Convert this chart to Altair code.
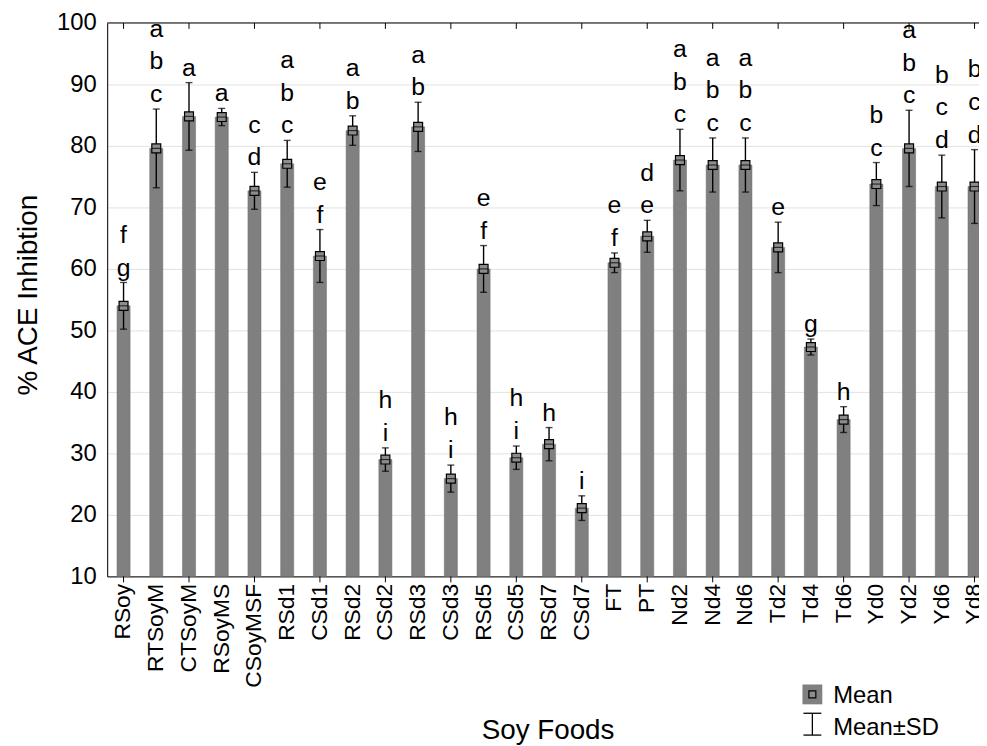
import altair as alt
import pandas as pd

foods = ["RSoy", "RTSoyM", "CTSoyM", "RSoyMS", "CSoyMSF", "RSd1", "CSd1", "RSd2",
         "CSd2", "RSd3", "CSd3", "RSd5", "CSd5", "RSd7", "CSd7", "FT", "PT",
         "Nd2", "Nd4", "Nd6", "Td2", "Td4", "Td6", "Yd0", "Yd2", "Yd6", "Yd8"]
means = [54.0, 79.6, 84.8, 84.7, 72.7, 77.1, 62.1, 82.5, 29.0, 83.1, 25.9, 60.0,
         29.3, 31.5, 21.1, 61.0, 65.3, 77.7, 76.9, 76.9, 63.5, 47.3, 35.5, 73.8,
         79.6, 73.4, 73.4]
sds = [3.8, 6.4, 5.5, 1.4, 3.0, 3.8, 4.3, 2.4, 1.9, 4.0, 2.2, 3.8, 1.9, 2.7, 2.0,
       1.6, 2.6, 5.0, 4.4, 4.4, 4.1, 1.3, 2.1, 3.5, 6.2, 5.1, 6.0]
letters = ["fg", "abc", "a", "a", "cd", "abc", "ef", "ab", "hi", "ab", "hi", "ef",
           "hi", "h", "i", "ef", "de", "abc", "abc", "abc", "e", "g", "h", "bc",
           "abc", "bcd", "bcd"]
y_ticks = [10, 20, 30, 40, 50, 60, 70, 80, 90, 100]

df = pd.DataFrame({"food": foods, "mean": means, "sd": sds})
df["lo"] = df["mean"] - df["sd"]
df["hi"] = df["mean"] + df["sd"]

rows = []
for f, m, s, ls in zip(foods, means, sds, letters):
    n = len(ls)
    for i, ch in enumerate(ls):
        rows.append({"food": f, "top": m + s, "letter": ch, "k": n - 1 - i})
ldf = pd.DataFrame(rows)

tick_df = pd.DataFrame({"food": foods[::2]})
one = pd.DataFrame({"a": [0]})

FONT = "Liberation Sans"
W, H = 879, 558

xenc = alt.X("food:N", sort=foods,
             scale=alt.Scale(range=[0, 891], paddingInner=0.6, paddingOuter=0.3),
             axis=alt.Axis(title="Soy Foods", labelAngle=270, labelFontSize=23,
                           labelPadding=7, ticks=False, domainColor="black",
                           labelColor="black", titleFontSize=28,
                           titleFontWeight="normal", titleColor="black",
                           titleX=444, titleY=163, titleBaseline="alphabetic",
                           titleAlign="center", labelFont=FONT, titleFont=FONT))

yscale = alt.Scale(domain=[10, 100], nice=False, zero=False)
yaxis = alt.Axis(title="% ACE Inhibtion", values=y_ticks, labelFontSize=24,
                 labelColor="black", labelPadding=11, ticks=False,
                 domainColor="black", gridColor="#e2e2e2", titleFontSize=28,
                 titleFontWeight="normal", titleColor="black", titleX=-71,
                 titleY=274, titleAngle=270, titleBaseline="alphabetic",
                 titleAlign="center", labelFont=FONT, titleFont=FONT)

xs = alt.X("food:N", sort=foods)

bars = alt.Chart(df).mark_bar(color="#808080", stroke="#6a6a6a", strokeWidth=0.5).encode(
    x=xenc,
    y=alt.Y("mean:Q", scale=yscale, axis=yaxis),
    y2=alt.Y2(datum=10),
)

mean_sq = alt.Chart(df).mark_point(shape="square", size=81, filled=True,
                                   fill="#8c8c8c", stroke="black",
                                   strokeWidth=1.2, opacity=1).encode(
    x=xs, y=alt.Y("mean:Q", scale=yscale))

err = alt.Chart(df).mark_rule(color="black", strokeWidth=1.4).encode(
    x=xs, y=alt.Y("lo:Q", scale=yscale), y2="hi:Q")

cap_lo = alt.Chart(df).mark_tick(color="black", size=7, thickness=1.4).encode(
    x=xs, y=alt.Y("lo:Q", scale=yscale))
cap_hi = alt.Chart(df).mark_tick(color="black", size=7, thickness=1.4).encode(
    x=xs, y=alt.Y("hi:Q", scale=yscale))
mean_tick = alt.Chart(df).mark_tick(color="black", size=9, thickness=1.2).encode(
    x=xs, y=alt.Y("mean:Q", scale=yscale))

letter_layers = []
for k in range(3):
    letter_layers.append(
        alt.Chart(ldf).transform_filter(alt.datum.k == k).mark_text(
            fontSize=25, font=FONT, color="black", baseline="alphabetic",
            align="center", dy=-(7 + 33 * k)).encode(
            x=xs, y=alt.Y("top:Q", scale=yscale), text="letter:N")
    )

ticks_bottom = alt.Chart(tick_df).mark_rule(color="black", strokeWidth=1).encode(
    x=xs, y=alt.value(H), y2=alt.value(H + 6))
ticks_top = alt.Chart(tick_df).mark_rule(color="black", strokeWidth=1).encode(
    x=xs, y=alt.value(0), y2=alt.value(6))
top_line = alt.Chart(one).mark_rule(color="black", strokeWidth=1).encode(
    x=alt.value(0), x2=alt.value(W), y=alt.value(0))

# legend
leg_box = alt.Chart(one).mark_point(shape="square", size=400, filled=True,
                                    color="#808080", opacity=1).encode(
    x=alt.value(711), y=alt.value(677))
leg_inner = alt.Chart(one).mark_point(shape="square", size=49, filled=True,
                                      fill="#8c8c8c", stroke="black",
                                      strokeWidth=1.2, opacity=1).encode(
    x=alt.value(711), y=alt.value(677))
leg_v = alt.Chart(one).mark_rule(color="black", strokeWidth=1.3).encode(
    x=alt.value(711), y=alt.value(696), y2=alt.value(718))
leg_c1 = alt.Chart(one).mark_rule(color="black", strokeWidth=1.3).encode(
    x=alt.value(702), x2=alt.value(720), y=alt.value(696))
leg_c2 = alt.Chart(one).mark_rule(color="black", strokeWidth=1.3).encode(
    x=alt.value(702), x2=alt.value(720), y=alt.value(718))
leg_t1 = alt.Chart(one).mark_text(text="Mean", fontSize=24, font=FONT, align="left",
                                  baseline="alphabetic", color="black").encode(
    x=alt.value(732), y=alt.value(686))
leg_t2 = alt.Chart(one).mark_text(text="Mean±SD", fontSize=24, font=FONT, align="left",
                                  baseline="alphabetic", color="black").encode(
    x=alt.value(732), y=alt.value(718))

chart = alt.layer(
    bars, err, mean_sq, mean_tick, cap_lo, cap_hi, *letter_layers,
    ticks_bottom, ticks_top, top_line,
    leg_box, leg_inner, leg_v, leg_c1, leg_c2, leg_t1, leg_t2,
).properties(
    width=W, height=H,
    autosize=alt.AutoSizeParams(type="none"),
    padding={"left": 100, "top": 12, "right": 0, "bottom": 176},
).configure_view(stroke=None).configure(font=FONT)

chart.save("out.html", embed_options={"renderer": "svg", "actions": False})
